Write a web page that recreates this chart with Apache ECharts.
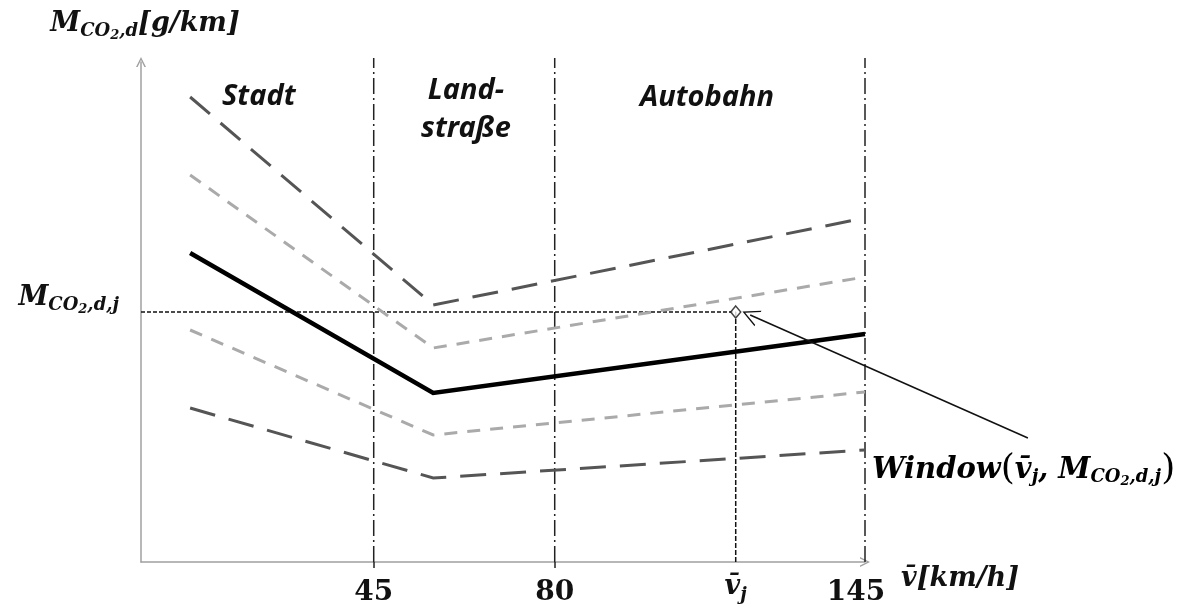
<!DOCTYPE html>
<html><head><meta charset="utf-8">
<script src="https://cdn.jsdelivr.net/npm/echarts@6/dist/echarts.min.js"></script>
<style>html,body{margin:0;padding:0;background:#fff}#c{width:1194px;height:609px}</style>
</head><body><div id="c"></div>
<script>
// schematic x positions (speed axis) and curve values
const xBreaks = [9.5, 56.5, 140];
const upperFar = [93, 51.4, 68.8];
const upperNear = [77.4, 42.8, 57];
const meanCurve = [61.8, 33.8, 45.6];
const lowerNear = [46.4, 25.4, 34];
const lowerFar = [30.8, 16.8, 22.4];
const zoneBounds = [45, 80, 140];
const xTickValues = [45, 80, 115, 140];
const xTickLabels = ['45', '80', 'vj', '145'];
const vj = 115, mj = 50;
const arrowFrom = [171.5, 24.8], arrowTo = [117.8, 49.4];
const zoneTop = 100.8;

const SERIF = '"DejaVu Serif", serif';
const base = {fontFamily: SERIF, fontWeight: 'bold', fontStyle: 'italic', color: '#111', lineHeight: 36};
const rich = {
  M: Object.assign({}, base, {fontSize: 27, verticalAlign: 'middle'}),
  s: Object.assign({}, base, {fontSize: 18, verticalAlign: 'bottom', padding: [0, 0, 2, 0]}),
  t: Object.assign({}, base, {fontSize: 13, verticalAlign: 'bottom', padding: [0, 0, 0, 0]}),
  P: {fontFamily: SERIF, fontWeight: 'normal', fontSize: 36, color: '#111', lineHeight: 36},
  W: Object.assign({}, base, {fontSize: 29, verticalAlign: 'middle'}),
  V: {fontFamily: SERIF, fontWeight: 'bold', fontStyle: 'italic', color: '#111', fontSize: 27, verticalAlign: 'middle', padding: [0, 0, 12, 0]},
  Vs: {fontFamily: SERIF, fontWeight: 'bold', fontStyle: 'italic', color: '#111', fontSize: 18, verticalAlign: 'bottom', padding: [0, 0, 8, 0]},
  n: {fontFamily: SERIF, fontWeight: 'bold', fontSize: 28, color: '#111'},
  n145: {fontFamily: SERIF, fontWeight: 'bold', fontSize: 28, color: '#111', padding: [0, 18, 0, 0]}
};
const sub = '{s|CO}{t|2}{s|,d';

function mk(arr) { return xBreaks.map((x, i) => [x, arr[i]]); }

const chart = echarts.init(document.getElementById('c'));
const chevron = 'path://M0,10 L5,0 L10,10 L8.4,10 L5,3 L1.6,10 Z';
const openArrow = 'path://M8,0 L16,17 L14.6,17 L8,3 L1.4,17 L0,17 Z';

const series = [];
zoneBounds.forEach(b => series.push({
  type: 'line', data: [[b, 0], [b, zoneTop]], symbol: 'none', clip: false, silent: true, z: 1,
  lineStyle: {color: '#222', width: 1.5, type: [16, 4, 2, 4]}
}));
series.push({type: 'line', data: [[0, mj], [vj, mj]], symbol: 'none', silent: true, z: 2,
  lineStyle: {color: '#111', width: 1.3, type: [4, 2]}});
series.push({type: 'line', data: [[vj, 0], [vj, mj]], symbol: 'none', silent: true, z: 2,
  lineStyle: {color: '#111', width: 1.5, type: [5, 2]}});
const curves = [
  [upperFar, '#555', 3, [26, 14]],
  [upperNear, '#aaa', 3, [13, 10]],
  [meanCurve, '#000', 4.5, 'solid'],
  [lowerNear, '#aaa', 3, [13, 10]],
  [lowerFar, '#555', 3, [26, 14]]
];
curves.forEach(c => series.push({
  type: 'line', data: mk(c[0]), symbol: 'none', silent: true, z: 3,
  lineStyle: {color: c[1], width: c[2], type: c[3], cap: 'butt', join: 'miter'}
}));
series.push({type: 'scatter', data: [[vj, mj]], symbol: 'diamond', symbolSize: [10, 12], z: 5,
  itemStyle: {color: '#fff', borderColor: '#111', borderWidth: 1.5}});
series.push({type: 'lines', coordinateSystem: 'cartesian2d', clip: false, z: 4, silent: true,
  symbol: ['none', openArrow], symbolSize: [16, 17],
  lineStyle: {color: '#111', width: 1.5, opacity: 1, curveness: 0},
  data: [{coords: [arrowFrom, arrowTo]}]});

chart.setOption({
  animation: false,
  backgroundColor: '#fff',
  grid: {left: 141, right: 329, top: 62, bottom: 47, containLabel: false, outerBoundsMode: 'none'},
  xAxis: {
    type: 'value', min: 0, max: 140,
    name: '{M|v\u0304[km/h]}', nameLocation: 'end', nameGap: 36,
    nameTextStyle: {rich: rich, padding: [34, 0, 0, 0]},
    axisLine: {onZero: false, lineStyle: {color: '#a0a0a0', width: 1.5}, symbol: ['none', chevron], symbolSize: [11, 10]},
    axisTick: {show: true, customValues: [45, 80], length: 6, lineStyle: {color: '#222', width: 1.5}},
    splitLine: {show: false},
    axisLabel: {
      customValues: xTickValues, margin: 31, verticalAlign: 'middle',
      formatter: v => {
        const i = xTickValues.indexOf(v);
        const t = xTickLabels[i];
        if (t === 'vj') return '{V|v\u0304}{Vs|j}';
        if (t === '145') return '{n145|145}';
        return '{n|' + t + '}';
      },
      rich: rich
    }
  },
  yAxis: {
    type: 'value', min: 0, max: 100,
    name: '{M|M}' + sub + '}{M|[g/km]}', nameLocation: 'end', nameGap: 20,
    nameTextStyle: {rich: rich, padding: [0, 0, 0, 8]},
    axisLine: {show: true, onZero: false, lineStyle: {color: '#a0a0a0', width: 1.5}, symbol: ['none', chevron], symbolSize: [11, 10]},
    axisTick: {show: false},
    splitLine: {show: false},
    axisLabel: {customValues: [mj], margin: 22, padding: [0, 0, 28, 0], formatter: () => '{M|M}' + sub + ',j}', rich: rich}
  },
  graphic: [
    {type: 'text', x: 222, y: 82, style: {text: 'Stadt', font: 'italic bold 29px "Noto Sans"', fill: '#111'}},
    {type: 'text', x: 466, y: 72, style: {text: 'Land-\nstraße', font: 'italic bold 29px "Noto Sans"', fill: '#111', align: 'center', lineHeight: 38}},
    {type: 'text', x: 640, y: 83, style: {text: 'Autobahn', font: 'italic bold 29px "Noto Sans"', fill: '#111'}},
    {type: 'text', x: 872, y: 452, style: {text: '{W|Window}{P|(}{W|v\u0304}{s|j}{W|, M}' + sub + ',j}{P|)}', rich: rich}}
  ],
  series: series
});
</script></body></html>
